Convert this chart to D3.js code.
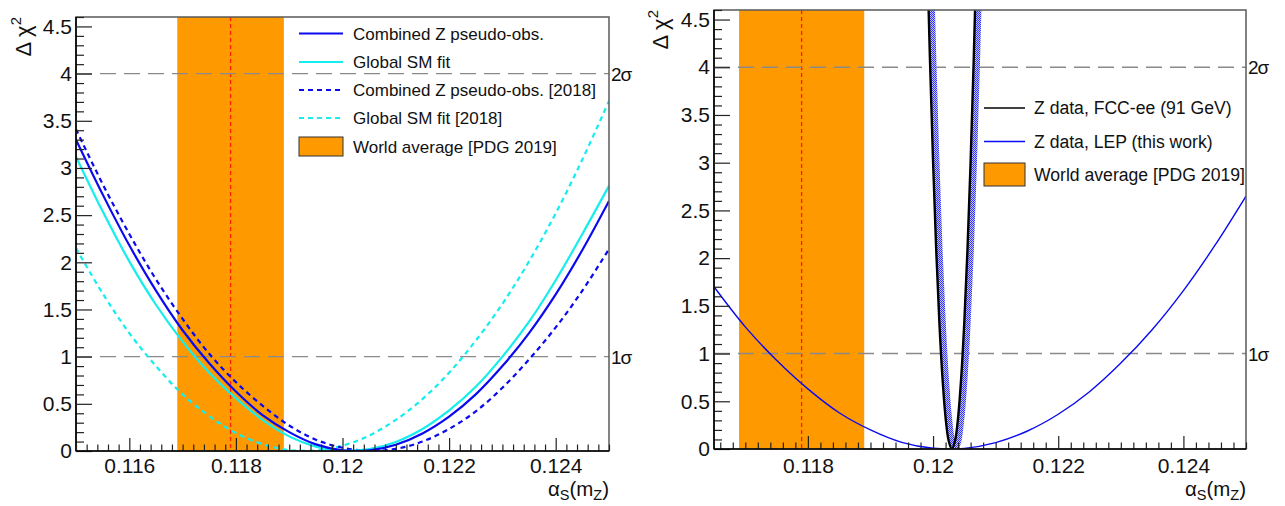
<!DOCTYPE html>
<html>
<head>
<meta charset="utf-8">
<script src="https://cdn.jsdelivr.net/npm/d3@7"></script>
<style>
  html, body { margin: 0; padding: 0; background: #fff; }
  svg { display: block; font-family: "Liberation Sans", Arial, sans-serif; }
</style>
</head>
<body>
<div id="chart"></div>
<script>
// ---------------- DATA ----------------
// Left panel
const xLeft = [0.1150, 0.1155, 0.1160, 0.1165, 0.1170, 0.1175, 0.1180, 0.1185, 0.1190, 0.1195,
               0.1200, 0.1205, 0.1210, 0.1215, 0.1220, 0.1225, 0.1230, 0.1235, 0.1240, 0.1245, 0.1250];
const combinedZ     = [3.30, 2.72, 2.18, 1.70, 1.28, 0.93, 0.63, 0.38, 0.20, 0.07, 0.008, 0.007, 0.067, 0.186, 0.364, 0.60, 0.90, 1.25, 1.66, 2.13, 2.65];
const globalSM      = [3.12, 2.54, 2.01, 1.55, 1.16, 0.83, 0.56, 0.33, 0.155, 0.046, 0.002, 0.019, 0.096, 0.233, 0.43, 0.68, 1.00, 1.37, 1.81, 2.30, 2.81];
const combinedZ2018 = [3.41, 2.83, 2.30, 1.82, 1.40, 1.03, 0.73, 0.48, 0.27, 0.12, 0.034, 0.001, 0.022, 0.10, 0.234, 0.42, 0.67, 0.97, 1.31, 1.70, 2.14];
const globalSM2018  = [2.15, 1.67, 1.25, 0.90, 0.60, 0.37, 0.19, 0.073, 0.010, 0.005, 0.056, 0.164, 0.33, 0.55, 0.83, 1.17, 1.56, 2.01, 2.52, 3.09, 3.71];

// Right panel
const xRightLEP = [0.1165, 0.1170, 0.1175, 0.1180, 0.1185, 0.1190, 0.1195, 0.1200, 0.1205,
                   0.1210, 0.1215, 0.1220, 0.1225, 0.1230, 0.1235, 0.1240, 0.1245, 0.1250];
const lepThisWork = [1.70, 1.28, 0.93, 0.63, 0.38, 0.20, 0.07, 0.008, 0.007, 0.067, 0.186, 0.364, 0.60, 0.90, 1.25, 1.66, 2.13, 2.65];
const xFCC = [0.11990, 0.11995, 0.12000, 0.12005, 0.12010, 0.12015, 0.12020, 0.12025, 0.12030,
              0.12035, 0.12040, 0.12045, 0.12050, 0.12055, 0.12060, 0.12065, 0.12070];
const fccee = [5.35, 4.09, 3.01, 2.09, 1.34, 0.75, 0.33, 0.084, 0, 0.084, 0.33, 0.75, 1.34, 2.09, 3.01, 4.09, 5.35];
const xFCCBand = [0.11995, 0.12000, 0.12005, 0.12010, 0.12015, 0.12020, 0.12025, 0.12030, 0.12035,
                  0.12040, 0.12045, 0.12050, 0.12055, 0.12060, 0.12065, 0.12070, 0.12075];
const fcceeBand = [5.35, 4.09, 3.01, 2.09, 1.34, 0.75, 0.33, 0.084, 0, 0.084, 0.33, 0.75, 1.34, 2.09, 3.01, 4.09, 5.35];

// World average (PDG 2019)
const worldAvg = [0.1179];
const worldAvgBand = [0.1169, 0.1189];

// Sigma reference lines
const sigmaLevels = [1, 4];
const sigmaLabels = ["1σ", "2σ"];

// Axis ticks
const yMajorTicks = [0, 0.5, 1, 1.5, 2, 2.5, 3, 3.5, 4, 4.5];
const yTickLabels = ["0", "0.5", "1", "1.5", "2", "2.5", "3", "3.5", "4", "4.5"];
const xMajorTicksLeft = [0.116, 0.118, 0.120, 0.122, 0.124];
const xTickLabelsLeft = ["0.116", "0.118", "0.12", "0.122", "0.124"];
const xMajorTicksRight = [0.118, 0.120, 0.122, 0.124];
const xTickLabelsRight = ["0.118", "0.12", "0.122", "0.124"];

const legendLeft = ["Combined Z pseudo-obs.", "Global SM fit", "Combined Z pseudo-obs. [2018]", "Global SM fit [2018]", "World average [PDG 2019]"];
const legendRight = ["Z data, FCC-ee (91 GeV)", "Z data, LEP (this work)", "World average [PDG 2019]"];

// ---------------- STYLE ----------------
const ORANGE = "#ff9900", BLUE = "#0a0af0", CYAN = "#14eeee", GRAY = "#8a8a8a";
const TICKFONT = 21;

const svg = d3.select("#chart").append("svg").attr("width", 1285).attr("height", 506);
const defs = svg.append("defs");
const pat = defs.append("pattern").attr("id", "chk").attr("width", 2).attr("height", 2)
  .attr("patternUnits", "userSpaceOnUse");
pat.append("rect").attr("width", 2).attr("height", 2).attr("fill", "#c4c4ff");
pat.append("rect").attr("width", 1).attr("height", 1).attr("fill", "#3434ff");
pat.append("rect").attr("x", 1).attr("y", 1).attr("width", 1).attr("height", 1).attr("fill", "#3434ff");

function panel(cfg) {
  const x = d3.scaleLinear().domain(cfg.xDomain).range([cfg.left, cfg.right]);
  const y = d3.scaleLinear().domain([0, 4.6]).range([cfg.bottom, cfg.top]);
  const g = svg.append("g");
  const clipId = "clip" + cfg.id;
  defs.append("clipPath").attr("id", clipId).append("rect")
    .attr("x", cfg.left).attr("y", cfg.top)
    .attr("width", cfg.right - cfg.left).attr("height", cfg.bottom - cfg.top);
  const plot = g.append("g").attr("clip-path", `url(#${clipId})`);

  // orange band
  plot.append("rect")
    .attr("x", x(worldAvgBand[0])).attr("width", x(worldAvgBand[1]) - x(worldAvgBand[0]))
    .attr("y", cfg.top).attr("height", cfg.bottom - cfg.top)
    .attr("fill", ORANGE);
  // red dashed central value
  plot.append("line")
    .attr("x1", x(worldAvg[0])).attr("x2", x(worldAvg[0]))
    .attr("y1", cfg.top).attr("y2", cfg.bottom)
    .attr("stroke", "#ff1a00").attr("stroke-width", 1.3).attr("stroke-dasharray", "4,3");
  // sigma lines
  sigmaLevels.forEach((s, i) => {
    plot.append("line")
      .attr("x1", cfg.left).attr("x2", cfg.right).attr("y1", y(s)).attr("y2", y(s))
      .attr("stroke", GRAY).attr("stroke-width", 1.4).attr("stroke-dasharray", "16,8");
    g.append("text").attr("x", cfg.right + 2).attr("y", y(s) + 7)
      .attr("font-size", 19).attr("letter-spacing", -1).attr("fill", "#111").text(sigmaLabels[i]);
  });

  const line = (xs) => d3.line().x((d, i) => x(xs[i])).y(d => y(d)).curve(d3.curveCatmullRom.alpha(0.5));
  cfg.curves.forEach(c => {
    plot.append("path").datum(c.values)
      .attr("d", line(c.xs))
      .attr("fill", "none")
      .attr("stroke", c.stroke)
      .attr("stroke-width", c.width)
      .attr("stroke-dasharray", c.dash || null)
      .attr("stroke-linejoin", "round");
  });

  // frame
  g.append("rect").attr("x", cfg.left).attr("y", cfg.top)
    .attr("width", cfg.right - cfg.left).attr("height", cfg.bottom - cfg.top)
    .attr("fill", "none").attr("stroke", "#5a5a5a").attr("stroke-width", 1.5);

  // y axis
  const yMinor = d3.range(0, 4.61, 0.1).filter(v => !yMajorTicks.some(m => Math.abs(m - v) < 1e-6));
  g.append("g").attr("transform", `translate(${cfg.left},0)`)
    .call(d3.axisLeft(y).tickValues(yMinor).tickSize(-8).tickSizeOuter(0).tickFormat(""))
    .call(a => a.select(".domain").remove());
  const ya = g.append("g").attr("transform", `translate(${cfg.left},0)`)
    .call(d3.axisLeft(y).tickValues(yMajorTicks).tickSize(-16).tickSizeOuter(0).tickPadding(4)
      .tickFormat((d, i) => yTickLabels[i]));
  ya.select(".domain").attr("stroke", "#000").attr("stroke-width", 1.6)
    .attr("d", `M0,${cfg.bottom}V${cfg.top}`);
  ya.selectAll("text").attr("font-size", TICKFONT).attr("font-family", "Liberation Sans, Arial, sans-serif").attr("fill", "#111");
  g.selectAll(".tick line").attr("stroke", "#222").attr("stroke-width", 1.2);

  // x axis
  const step = 0.0002;
  const xMinor = d3.range(Math.ceil(cfg.xDomain[0] / step - 1e-6), Math.floor(cfg.xDomain[1] / step + 1e-6) + 1)
    .map(k => k * step).filter(v => !cfg.xMajor.some(m => Math.abs(m - v) < 1e-9));
  g.append("g").attr("transform", `translate(0,${cfg.bottom})`)
    .call(d3.axisBottom(x).tickValues(xMinor).tickSize(-6.5).tickSizeOuter(0).tickFormat(""))
    .call(a => a.select(".domain").remove())
    .selectAll(".tick line").attr("stroke", "#222").attr("stroke-width", 1.2);
  const xa = g.append("g").attr("transform", `translate(0,${cfg.bottom})`)
    .call(d3.axisBottom(x).tickValues(cfg.xMajor).tickSize(-13).tickSizeOuter(0).tickPadding(cfg.xPad)
      .tickFormat((d, i) => cfg.xLabels[i]));
  xa.select(".domain").attr("stroke", "#000").attr("stroke-width", 1.6)
    .attr("d", `M${cfg.left},0H${cfg.right}`);
  xa.selectAll("text").attr("font-size", TICKFONT).attr("font-family", "Liberation Sans, Arial, sans-serif").attr("fill", "#111");
  xa.selectAll(".tick line").attr("stroke", "#222").attr("stroke-width", 1.2);

  // x title
  const xt = g.append("text").attr("x", cfg.right).attr("y", 496).attr("text-anchor", "end")
    .attr("font-size", 20.5).attr("fill", "#111");
  xt.append("tspan").text("α");
  xt.append("tspan").attr("font-size", 14.5).attr("dy", 4).text("S");
  xt.append("tspan").attr("dy", -4).text("(m");
  xt.append("tspan").attr("font-size", 14.5).attr("dy", 4).text("Z");
  xt.append("tspan").attr("dy", -4).text(")");

  // y title
  const yt = g.append("text").attr("transform", `translate(${cfg.ytx},${cfg.yty}) rotate(-90)`)
    .attr("text-anchor", "end").attr("font-size", 22).attr("fill", "#111");
  yt.append("tspan").text("Δ χ");
  yt.append("tspan").attr("font-size", 15).attr("dy", -10).text("2");

  return { g, x, y };
}

// ---------- Left panel ----------
const L = panel({
  id: "L", left: 76, right: 609, top: 17, bottom: 451,
  xDomain: [0.115, 0.125], xMajor: xMajorTicksLeft, xLabels: xTickLabelsLeft, xPad: 7,
  ytx: 31, yty: 17,
  curves: [
    { xs: xLeft, values: globalSM2018, stroke: CYAN, width: 2.2, dash: "5,4" },
    { xs: xLeft, values: combinedZ2018, stroke: BLUE, width: 2.2, dash: "5,4" },
    { xs: xLeft, values: globalSM, stroke: CYAN, width: 2.2 },
    { xs: xLeft, values: combinedZ, stroke: BLUE, width: 2.2 }
  ]
});
// left legend
{
  const rows = [33.5, 62, 90, 118, 146.5];
  const styles = [
    { stroke: BLUE }, { stroke: CYAN }, { stroke: BLUE, dash: "5,4" }, { stroke: CYAN, dash: "5,4" }
  ];
  legendLeft.forEach((t, i) => {
    if (i < 4) {
      L.g.append("line").attr("x1", 299).attr("x2", 343).attr("y1", rows[i]).attr("y2", rows[i])
        .attr("stroke", styles[i].stroke).attr("stroke-width", 2.2)
        .attr("stroke-dasharray", styles[i].dash || null);
    } else {
      L.g.append("rect").attr("x", 299).attr("y", rows[i] - 9.5).attr("width", 44).attr("height", 19)
        .attr("fill", ORANGE).attr("stroke", "#333").attr("stroke-width", 1);
    }
    L.g.append("text").attr("x", 353).attr("y", rows[i] + 6).attr("font-size", 17).attr("fill", "#111").text(t);
  });
}

// ---------- Right panel ----------
const R = panel({
  id: "R", left: 714, right: 1246, top: 10, bottom: 449,
  xDomain: [0.1165, 0.125], xMajor: xMajorTicksRight, xLabels: xTickLabelsRight, xPad: 9,
  ytx: 668, yty: 10,
  curves: [
    { xs: xRightLEP, values: lepThisWork, stroke: BLUE, width: 1.4 },
    { xs: xFCCBand, values: fcceeBand, stroke: "url(#chk)", width: 6.5 },
    { xs: xFCC, values: fccee, stroke: "#000", width: 2.4 }
  ]
});
// right legend
{
  const rows = [108, 141.5, 174.5];
  legendRight.forEach((t, i) => {
    if (i === 0) {
      R.g.append("line").attr("x1", 984).attr("x2", 1025).attr("y1", rows[i]).attr("y2", rows[i])
        .attr("stroke", "#000").attr("stroke-width", 1.4);
    } else if (i === 1) {
      R.g.append("line").attr("x1", 984).attr("x2", 1025).attr("y1", rows[i]).attr("y2", rows[i])
        .attr("stroke", BLUE).attr("stroke-width", 1.4);
    } else {
      R.g.append("rect").attr("x", 984).attr("y", rows[i] - 11.5).attr("width", 41).attr("height", 23)
        .attr("fill", ORANGE).attr("stroke", "#333").attr("stroke-width", 1);
    }
    R.g.append("text").attr("x", 1034).attr("y", rows[i] + 6).attr("font-size", 17.6).attr("fill", "#111").text(t);
  });
}
</script>
</body>
</html>
